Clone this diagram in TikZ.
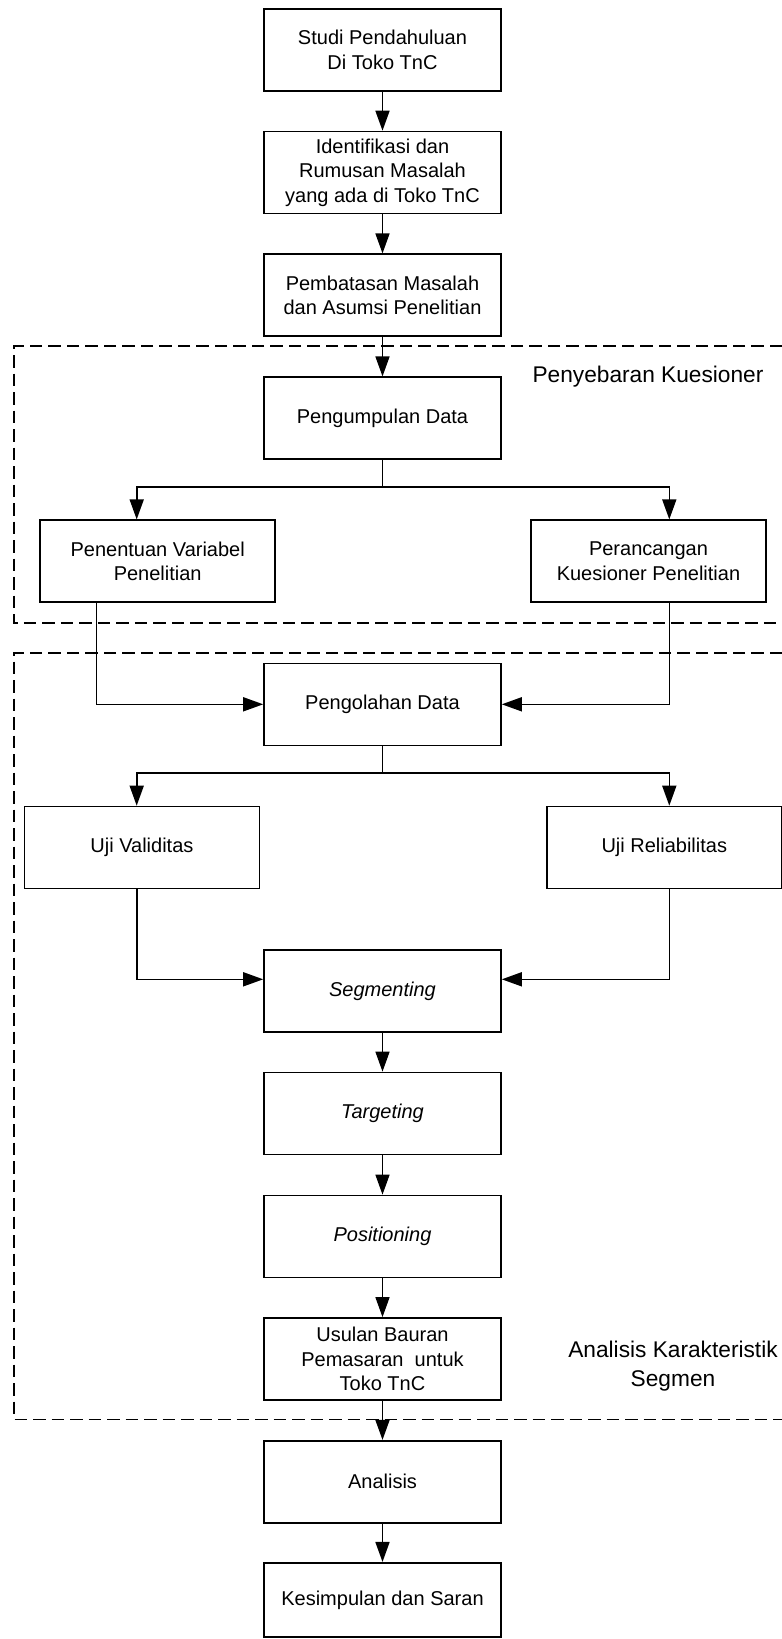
\documentclass[tikz,border=0pt]{standalone}
\usepackage{fontspec}
\setmainfont{Liberation Sans}
\usetikzlibrary{arrows.meta}
\begin{document}
\begin{tikzpicture}[x=1pt,y=-1pt,
  box/.style={draw,line width=1.6pt,minimum width=237pt,minimum height=82pt,inner sep=0pt,align=center,font=\fontsize{20}{24.5}\selectfont},
  wbox/.style={box,minimum width=235pt},
  arr/.style={line width=1.6pt,-{Triangle[length=20pt,width=14pt]}},
  ln/.style={line width=1.6pt},
  region/.style={line width=1.6pt,dash pattern=on 12.5pt off 6pt},
  lbl/.style={align=center,inner sep=0pt,font=\fontsize{22.7}{29}\selectfont}]
\useasboundingbox (0,0) rectangle (782,1639);
\fill[white] (0,0) rectangle (782,1639);
% dashed regions
\draw[region] (782,346) -- (14,346) -- (14,622.7) -- (782,622.7);
\draw[region] (782,652.7) -- (14,652.7) -- (14,1419.5) -- (782,1419.5);
\node[lbl] (l1) at (648,376.7) {Penyebaran Kuesioner};
\node[lbl] (l2) at (673,1366) {Analisis Karakteristik\\Segmen};
% boxes
\node[box] (b1) at (382.5,50) {Studi Pendahuluan\\Di Toko TnC};
\node[box] (b2) at (382.5,172.5) {Identifikasi dan\\Rumusan Masalah\\yang ada di Toko TnC};
\node[box] (b3) at (382.5,295.2) {Pembatasan Masalah\\dan Asumsi Penelitian};
\node[box] (b4) at (382.5,418.2) {Pengumpulan Data};
\node[wbox] (b5) at (157.7,561.2) {Penentuan Variabel\\Penelitian};
\node[wbox] (b6) at (648.5,561.2) {Perancangan\\Kuesioner Penelitian};
\node[box] (b7) at (382.5,704.3) {Pengolahan Data};
\node[wbox] (b8) at (141.9,847.5) {Uji Validitas};
\node[wbox] (b9) at (664.3,847.5) {Uji Reliabilitas};
\node[box] (b10) at (382.5,990.9) {\itshape Segmenting};
\node[box] (b11) at (382.5,1113.4) {\itshape Targeting};
\node[box] (b12) at (382.5,1236.4) {\itshape Positioning};
\node[box] (b13) at (382.5,1358.9) {Usulan Bauran\\Pemasaran~ untuk\\Toko TnC};
\node[box] (b14) at (382.5,1481.7) {Analisis};
\node[box,minimum height=74.3pt] (b15) at (382.5,1599.9) {Kesimpulan dan Saran};
% connectors
\draw[arr] (b1) -- (b2);
\draw[arr] (b2) -- (b3);
\draw[arr] (b3) -- (b4);
\coordinate (j1) at (382.5,486.7);
\draw[ln] (b4.south) -- (j1);
\draw[arr] (j1) -| ([xshift=-21pt]b5.north);
\draw[arr] (j1) -| ([xshift=20.8pt]b6.north);
\draw[arr] ([xshift=-61.4pt]b5.south) |- (b7.west);
\draw[arr] ([xshift=20.8pt]b6.south) |- (b7.east);
\coordinate (j2) at (382.5,772.7);
\draw[ln] (b7.south) -- (j2);
\draw[arr] (j2) -| ([xshift=-5.2pt]b8.north);
\draw[arr] (j2) -| ([xshift=5pt]b9.north);
\draw[arr] ([xshift=-5.2pt]b8.south) |- ([yshift=11.6pt]b10.west);
\draw[arr] ([xshift=5pt]b9.south) |- ([yshift=11.6pt]b10.east);
\draw[arr] (b10) -- (b11);
\draw[arr] (b11) -- (b12);
\draw[arr] (b12) -- (b13);
\draw[arr] (b13) -- (b14);
\draw[arr] (b14) -- (b15);
\end{tikzpicture}
\end{document}
